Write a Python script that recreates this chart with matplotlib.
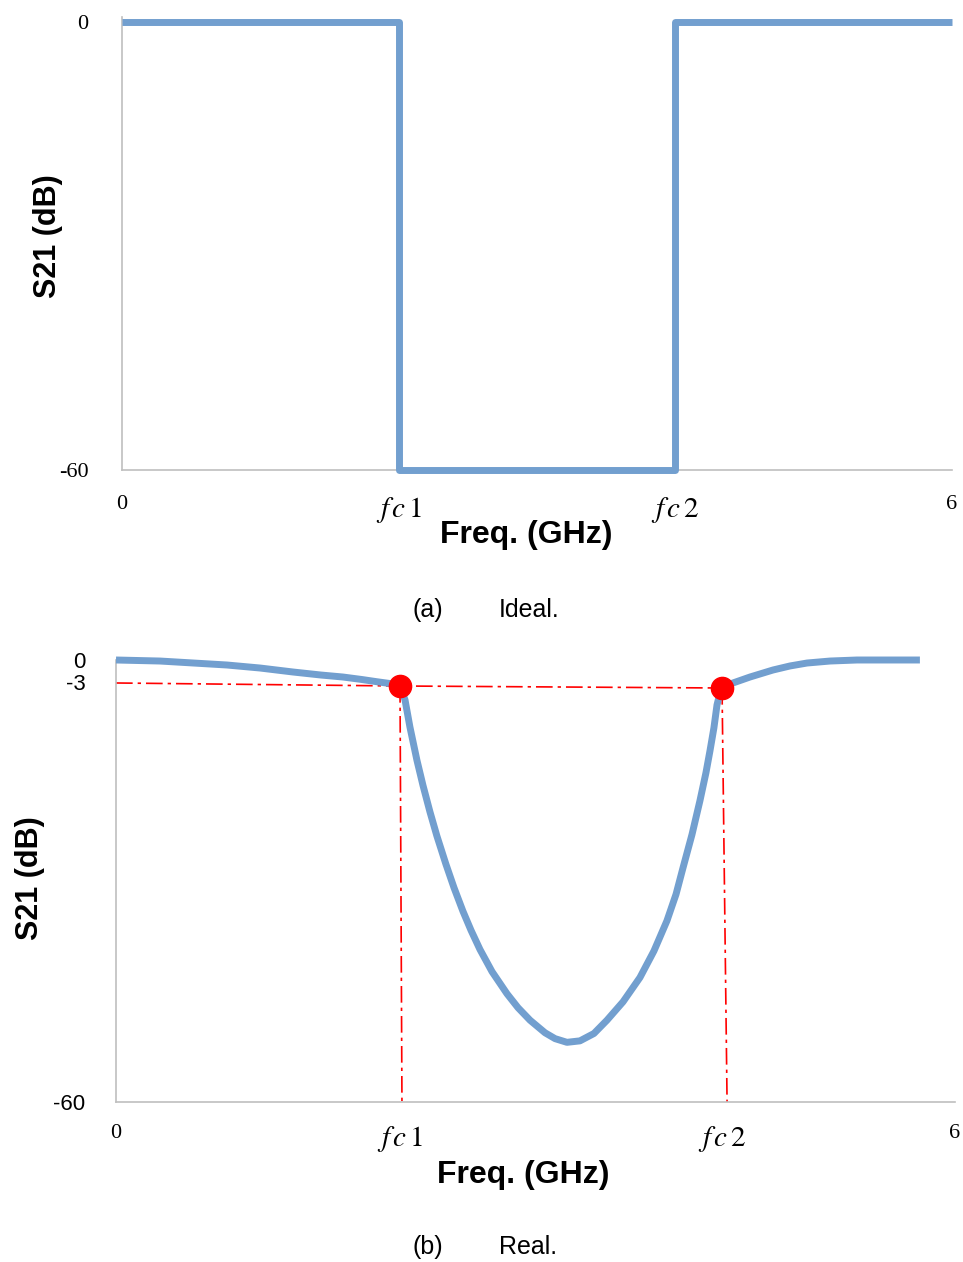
import matplotlib
matplotlib.use('Agg')
from matplotlib import pyplot as plt

plt.rcParams['mathtext.fontset'] = 'stix'

W, H = 963, 1262
blue = '#729FCF'
grey = '#BFBFBF'

# (a) ideal band-stop response
ideal_x = [0, 2, 2, 4, 4, 6]
ideal_y = [0, 0, -60, -60, 0, 0]
ideal_ticks = [0, 2, 4, 6]
ideal_ticklabels = ['0', r'$f\,c\,1$', r'$f\,c\,2$', '6']

# (b) real response (pixel readings -> GHz / dB)
real_x = [0.000, 0.315, 0.794, 1.031, 1.266, 1.466, 1.623, 1.759, 1.866, 1.981,
          2.031, 2.052, 2.067, 2.102, 2.152, 2.195, 2.245, 2.295, 2.359, 2.417,
          2.481, 2.539, 2.603, 2.689, 2.796, 2.875, 2.961, 3.068, 3.140, 3.225,
          3.318, 3.418, 3.511, 3.626, 3.747, 3.847, 3.940, 4.005, 4.055, 4.119,
          4.176, 4.219, 4.248, 4.276, 4.298, 4.319, 4.334, 4.412, 4.534, 4.698,
          4.820, 4.942, 5.106, 5.299, 5.749]
real_y = [0.00, -0.14, -0.68, -1.09, -1.63, -2.04, -2.31, -2.65, -2.95, -3.25,
          -3.39, -4.62, -5.43, -9.10, -13.60, -17.00, -20.60, -23.90, -27.70, -30.90,
          -34.10, -36.70, -39.30, -42.30, -45.30, -47.20, -48.90, -50.60, -51.40, -51.90,
          -51.70, -50.70, -48.90, -46.40, -43.10, -39.50, -35.40, -31.80, -28.20, -23.70,
          -19.10, -15.30, -12.30, -9.20, -6.10, -4.50, -3.80, -3.12, -2.31, -1.36,
          -0.81, -0.41, -0.14, 0.00, 0.00]
fc1, fc2 = 2.031, 4.334
fc_db = [-3.53, -3.80]
ref_line_x = [0, fc1, fc2]
ref_line_y = [-3.12, -3.53, -3.80]
real_ticks = [0, fc1, fc2, 6]
real_ticklabels = ['0', r'$f\,c\,1$', r'$f\,c\,2$', '6']

fig = plt.figure(figsize=(W / 100, H / 100), dpi=100)


def style_axes(ax, ylabel_family):
    for s in ['top', 'right']:
        ax.spines[s].set_visible(False)
    for s in ['left', 'bottom']:
        ax.spines[s].set_color(grey)
        ax.spines[s].set_linewidth(1.2)
    ax.tick_params(length=0)
    ax.set_xlim(0, 6)
    for lab in ax.get_xticklabels():
        lab.set_fontsize(16)
        lab.set_family('Liberation Serif')
    for lab in ax.get_yticklabels():
        lab.set_fontsize(16)
        lab.set_family(ylabel_family)
    for lab in ax.get_xticklabels()[1:3]:
        lab.set_fontsize(21)


# top panel
ax1 = fig.add_axes([122 / W, 1 - 470 / H, 830 / W, (470 - 17) / H])
ax1.plot(ideal_x, ideal_y, color=blue, lw=5, solid_joinstyle='round',
         solid_capstyle='butt', clip_on=False, zorder=3)
ax1.set_ylim(-60, 0.7)
ax1.set_yticks([0, -60])
ax1.set_yticklabels(['0', '-60'])
ax1.set_xticks(ideal_ticks)
ax1.set_xticklabels(ideal_ticklabels)
ax1.tick_params(axis='y', pad=24)
ax1.tick_params(axis='x', pad=18)
style_axes(ax1, 'Liberation Serif')

fig.text(526 / W, 1 - 535 / H, 'Freq. (GHz)', ha='center', va='center',
         fontsize=23, fontweight='bold', family='Liberation Sans')
fig.text(48 / W, 1 - 236 / H, 'S21 (dB)', ha='center', va='center', rotation=90,
         fontsize=22, fontweight='bold', family='Liberation Sans')

# bottom panel
dash = (10, 3, 2, 3)
ax2 = fig.add_axes([116 / W, 1 - 1102 / H, 839 / W, (1102 - 660) / H])
ax2.plot(ref_line_x, ref_line_y, color='red', lw=1.2, dashes=dash, zorder=2)
ax2.plot([fc1, 2.045], [fc_db[0], -60], color='red', lw=1.2, dashes=dash, zorder=2)
ax2.plot([fc2, 4.370], [fc_db[1], -60], color='red', lw=1.2, dashes=dash, zorder=2)
ax2.plot(real_x, real_y, color=blue, lw=5, solid_joinstyle='round',
         solid_capstyle='butt', clip_on=False, zorder=3)
ax2.plot([fc1, fc2], fc_db, 'o', color='red', ms=16, zorder=4, clip_on=False)
ax2.set_ylim(-60, 0)
ax2.set_yticks([0, -3, -60])
ax2.set_yticklabels(['0', '-3', '-60'])
ax2.set_xticks(real_ticks)
ax2.set_xticklabels(real_ticklabels)
ax2.tick_params(axis='y', pad=22)
ax2.tick_params(axis='x', pad=16)
style_axes(ax2, 'Liberation Sans')

fig.text(523 / W, 1 - 1175 / H, 'Freq. (GHz)', ha='center', va='center',
         fontsize=23, fontweight='bold', family='Liberation Sans')
fig.text(30 / W, 1 - 878 / H, 'S21 (dB)', ha='center', va='center', rotation=90,
         fontsize=22, fontweight='bold', family='Liberation Sans')

# captions
for y, tag, name in [(610, '(a)', 'Ideal.'), (1247, '(b)', 'Real.')]:
    fig.text(413 / W, 1 - y / H, tag, ha='left', va='center', fontsize=18,
             family='Liberation Sans')
    fig.text(499 / W, 1 - y / H, name, ha='left', va='center', fontsize=18,
             family='Liberation Sans')

fig.savefig('out.png', dpi=100)
